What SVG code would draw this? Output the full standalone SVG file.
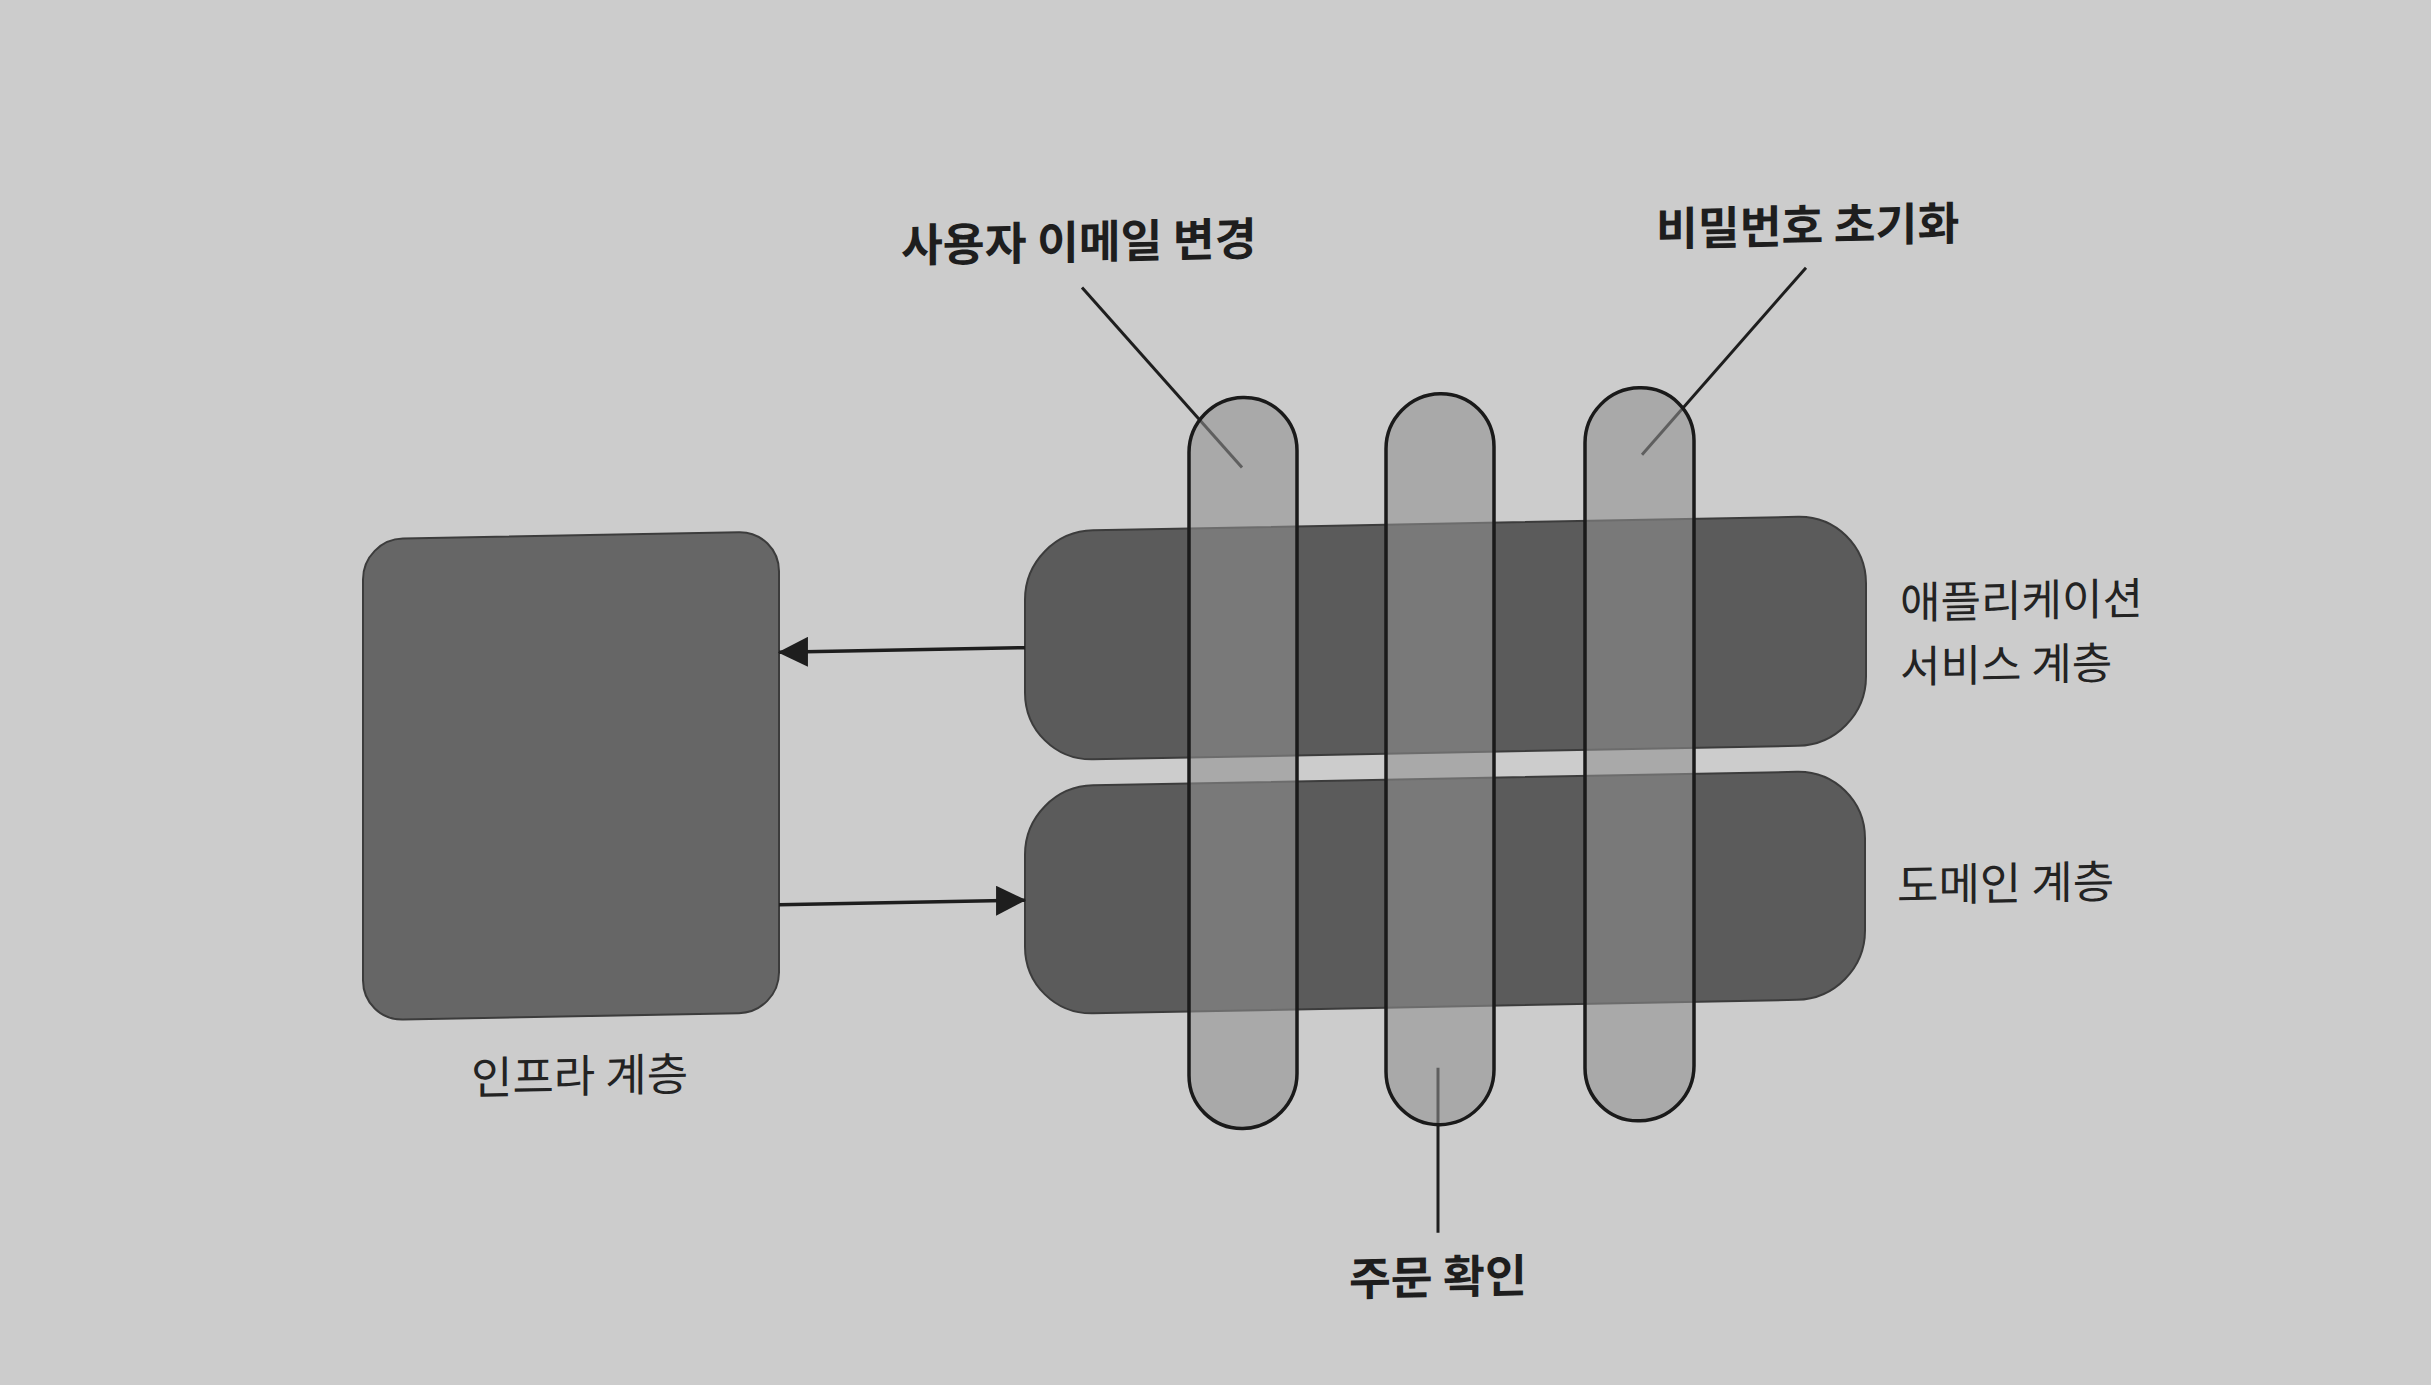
<svg xmlns="http://www.w3.org/2000/svg" width="2431" height="1385" viewBox="0 0 2431 1385">
<defs>
<style>
.layer{fill:#5b5b5b;stroke:#3c3c3c;stroke-width:2}
.infra{fill:#666666;stroke:#3c3c3c;stroke-width:2}
.pill{fill:#8f8f8f;fill-opacity:0.58;stroke:#1a1a1a;stroke-width:3.5}
.conn{stroke:#1e1e1e;stroke-width:3.5;fill:none}
.lead{stroke:#1e1e1e;stroke-width:3;fill:none}
.lbl{font-family:"Noto Sans CJK KR","Noto Sans",sans-serif;font-size:45px;fill:#232323}
.lbl2{font-family:"Noto Sans CJK KR","Noto Sans",sans-serif;font-size:44px;fill:#232323}
.blbl{font-family:"Noto Sans CJK KR","Noto Sans",sans-serif;font-size:45.5px;font-weight:700;fill:#1e1e1e}
</style>
<marker id="ah" markerUnits="userSpaceOnUse" markerWidth="30" markerHeight="30" viewBox="0 0 28 28" refX="27" refY="14" orient="auto">
<path d="M0,0 L28,14 L0,28 Z" fill="#1e1e1e"/>
</marker>
</defs>
<rect x="0" y="0" width="2431" height="1385" fill="#cccccc"/>
<g transform="matrix(1,-0.0192,0,1,0,23.33)">
<g id="infra-layer">
<rect class="infra" x="363" y="523" width="416" height="481" rx="40" ry="40"/>
<text class="lbl" x="471" y="1080">인프라 계층</text>
</g>
<g id="application-layer">
<rect class="layer" x="1025" y="528" width="841" height="229" rx="68" ry="68"/>
<text class="lbl2" x="1900" y="632"><tspan x="1900" y="632">애플리케이션</tspan><tspan x="1900" y="696">서비스 계층</tspan></text>
</g>
<g id="domain-layer">
<rect class="layer" x="1025" y="783" width="840" height="228" rx="68" ry="68"/>
<text class="lbl" x="1897" y="915">도메인 계층</text>
</g>
<g id="connectors">
<line class="conn" x1="1025" y1="644" x2="779" y2="644" marker-end="url(#ah)"/>
<line class="conn" x1="779" y1="896.5" x2="1025" y2="896.5" marker-end="url(#ah)"/>
<line class="lead" x1="1082" y1="285" x2="1242" y2="468"/>
<line class="lead" x1="1806" y1="279" x2="1642" y2="463"/>
<line class="lead" x1="1438" y1="1072" x2="1438" y2="1237"/>
</g>
<g id="use-case-change-email">
<rect class="pill" x="1189" y="398" width="108" height="731" rx="54" ry="54"/>
<text class="blbl" x="901" y="256">사용자 이메일 변경</text>
</g>
<g id="use-case-confirm-order">
<rect class="pill" x="1386" y="398" width="108" height="731" rx="54" ry="54"/>
<text class="blbl" x="1349" y="1298">주문 확인</text>
</g>
<g id="use-case-reset-password">
<rect class="pill" x="1585" y="396" width="109" height="733" rx="54" ry="54"/>
<text class="blbl" x="1656" y="254">비밀번호 초기화</text>
</g>
</g>
</svg>
